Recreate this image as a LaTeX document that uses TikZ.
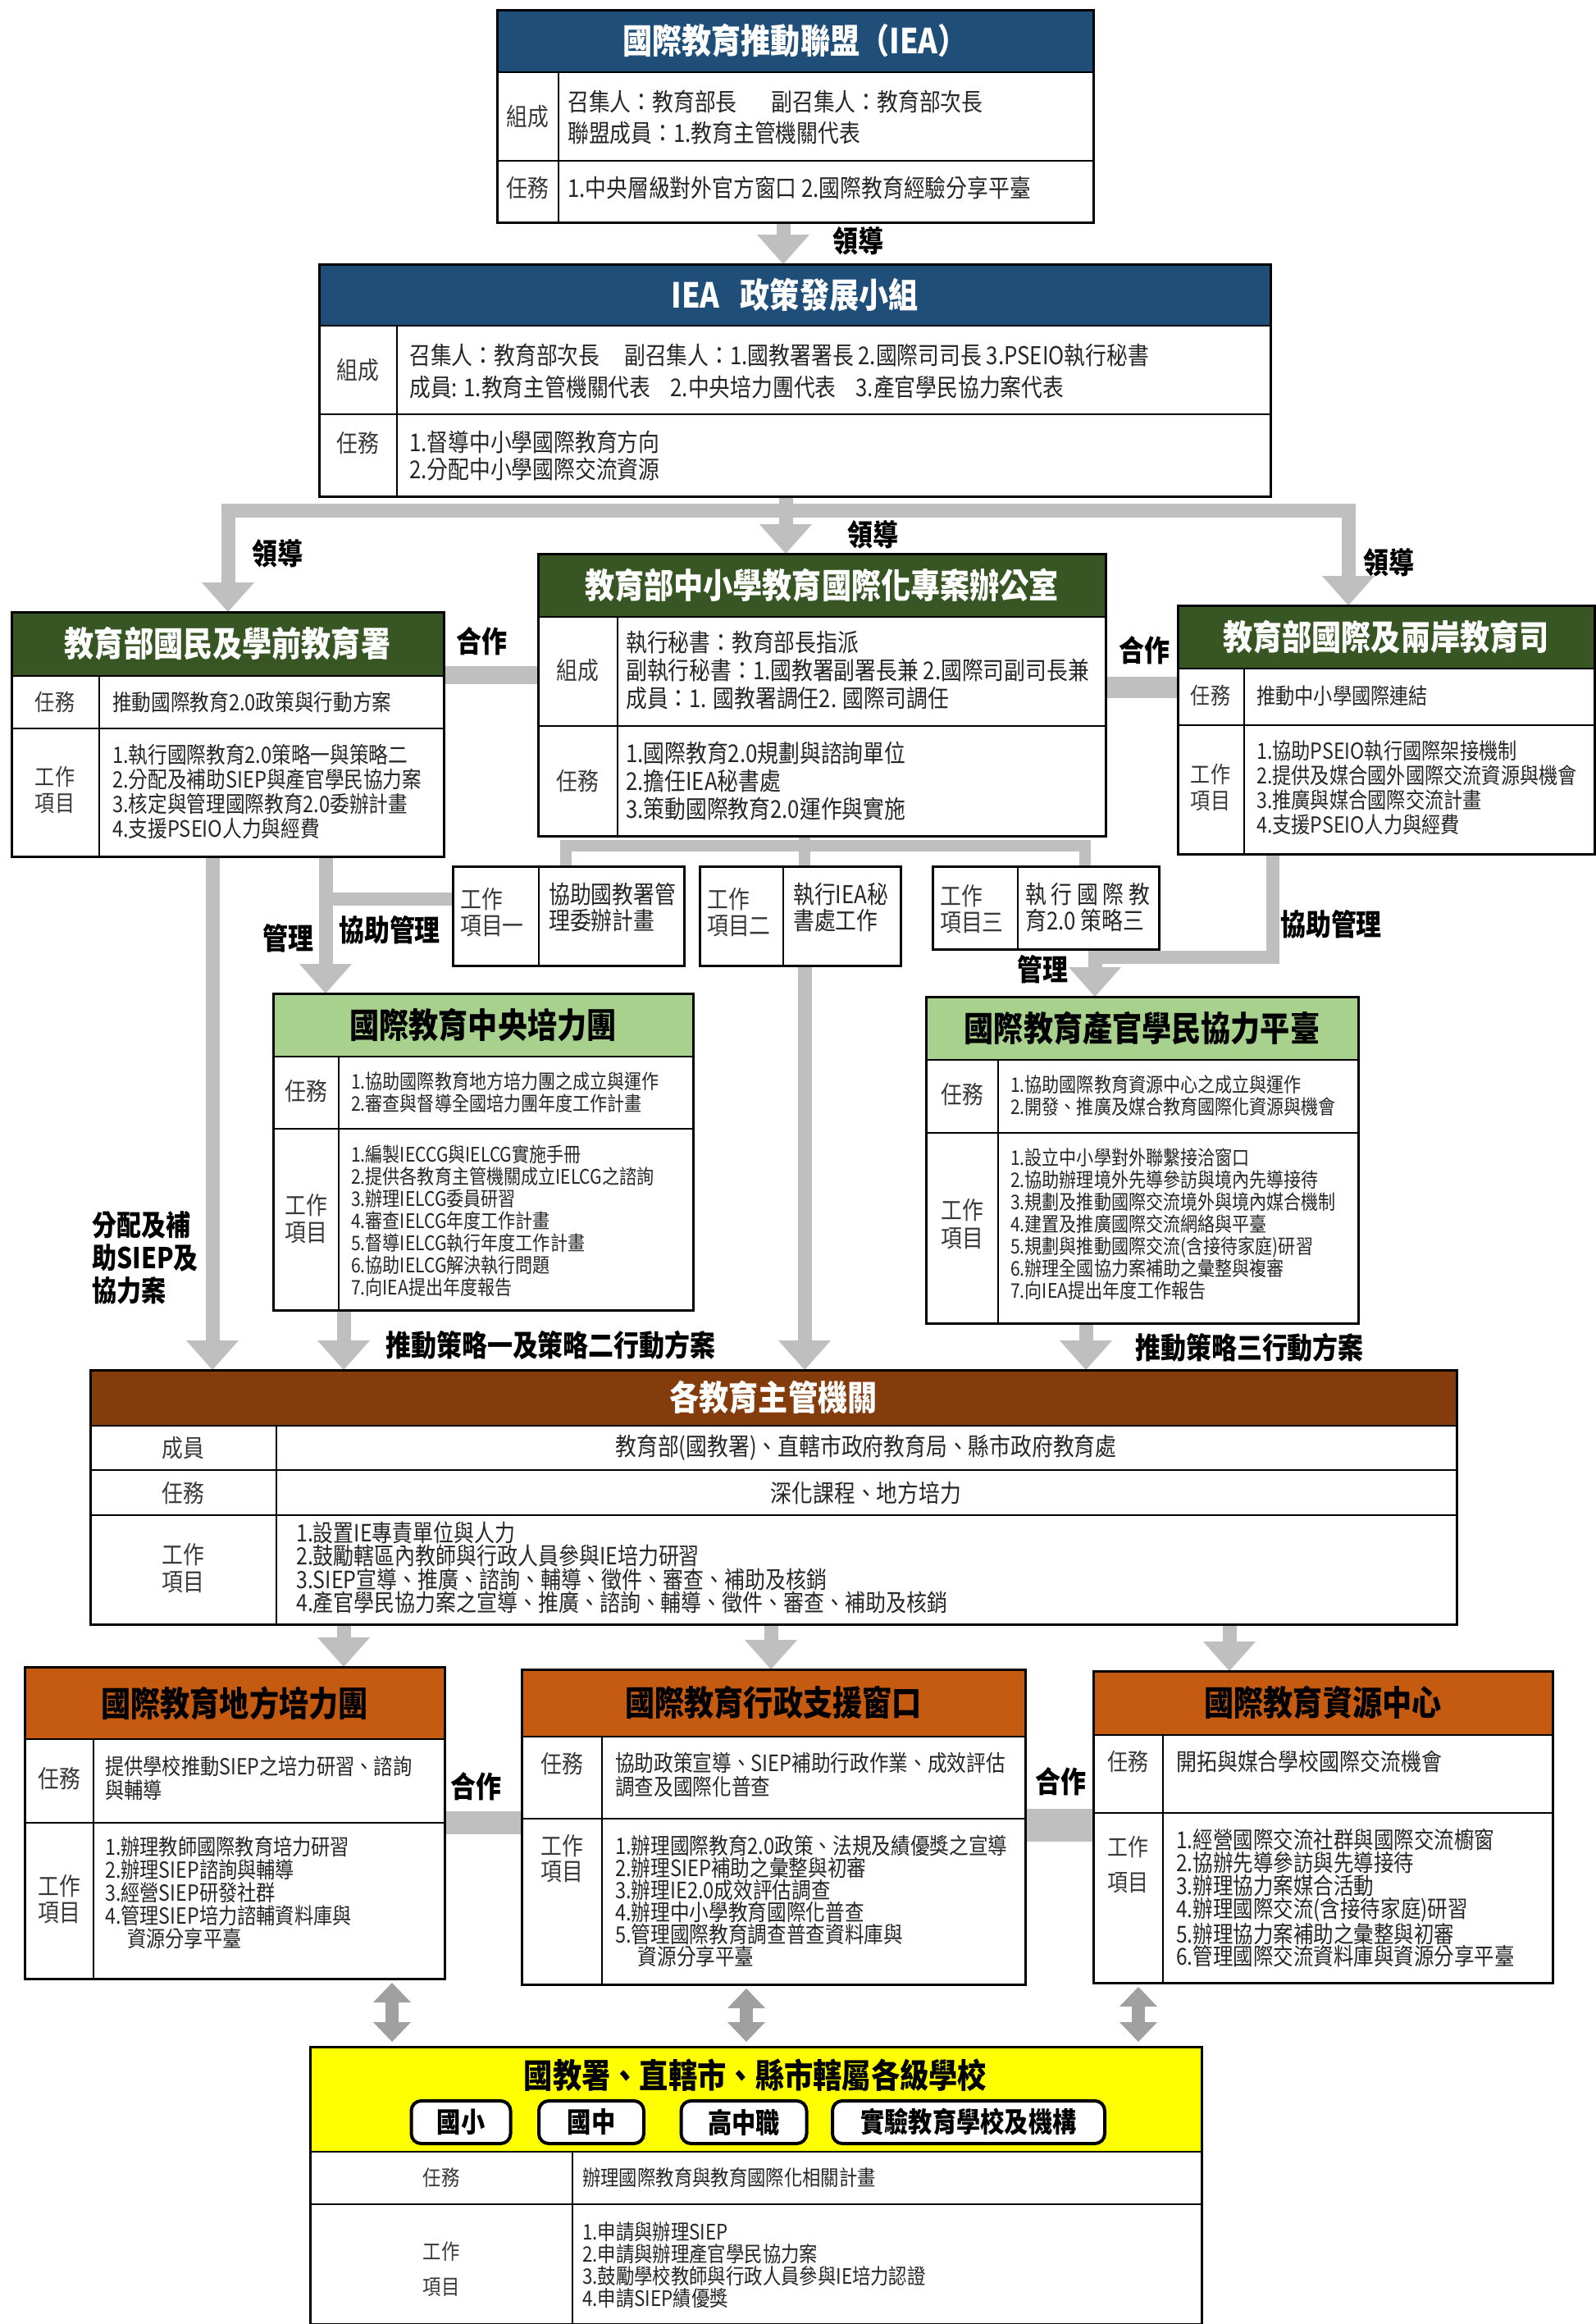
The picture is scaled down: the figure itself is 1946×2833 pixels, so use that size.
\documentclass[tikz,border=0pt]{standalone}
\usepackage{fontspec}
\setmainfont[FakeStretch=0.86]{Noto Sans CJK TC}
\usetikzlibrary{arrows.meta,backgrounds}
\definecolor{cblue}{HTML}{1F4E79}
\definecolor{dgreen}{HTML}{375623}
\definecolor{lgreen}{HTML}{A9D18E}
\definecolor{cbrown}{HTML}{843C0C}
\definecolor{corange}{HTML}{C55A11}
\definecolor{cyellow}{HTML}{FFFF00}
\definecolor{cgray}{HTML}{BFBFBF}
\definecolor{dgray}{HTML}{A0A0A0}
\definecolor{txtc}{HTML}{262626}
\definecolor{labc}{HTML}{3A3A3A}
\newcommand\fsz[2]{\fontsize{#1}{#2}\selectfont}
\begin{document}
\begin{tikzpicture}[x=1pt,y=-1pt,
  hd/.style={anchor=north west, inner sep=0pt, outer sep=0pt, font=\fsz{42}{46}\bfseries, align=center},
  frm/.style={anchor=north west, draw=black, line width=3pt, inner sep=0pt, outer sep=0pt},
  dv/.style={draw=black, line width=2.5pt},
  lab/.style={text=labc, align=center, inner sep=0pt},
  labl/.style={text=labc, align=left, anchor=west, inner sep=0pt},
  txt/.style={text=txtc, align=left, anchor=west, inner sep=0pt},
  conn/.style={draw=cgray, line width=17pt},
  arr/.style={draw=cgray, line width=17pt, -{Triangle[width=64pt,length=36pt,line width=0pt]}},
  dbl/.style={draw=dgray, line width=16pt, {Triangle[width=46pt,length=24pt,line width=0pt]}-{Triangle[width=46pt,length=24pt,line width=0pt]}, shorten <=5pt, shorten >=6pt},
  note/.style={font=\fsz{36}{40}\bfseries, text=black, inner sep=0pt, align=left},
  pill/.style={draw=black, line width=4pt, rounded corners=12pt, fill=white, inner sep=0pt, minimum height=52pt, font=\fsz{34}{38}\bfseries},
]
\useasboundingbox (0,0) rectangle (1946,2833);

% ---------- A: IEA ----------
\node[hd, fill=cblue, text=white, minimum width=727, minimum height=76] (Ah) at (606,12) {國際教育推動聯盟（IEA）};
\node[frm, minimum width=727, minimum height=259] (A) at (606,12) {};
\draw[dv] (606,88)--(1333,88) (606,196)--(1333,196) (681,88)--(681,271);
\node[lab, font=\fsz{30}{34}] (Al1) at (643,142) {組成};
\node[lab, font=\fsz{30}{34}] (Al2) at (643,229) {任務};
\node[txt, font=\fsz{30}{38}] (At1) at (692,143) {召集人：教育部長\hspace{1.4em}副召集人：教育部次長\\聯盟成員：1.教育主管機關代表};
\node[txt, font=\fsz{30}{38}] (At2) at (692,229) {1.中央層級對外官方窗口 2.國際教育經驗分享平臺};

% ---------- B: policy group ----------
\node[hd, fill=cblue, text=white, minimum width=1160, minimum height=75] (Bh) at (389,322) {IEA\hspace{0.6em}政策發展小組};
\node[frm, minimum width=1160, minimum height=283] (B) at (389,322) {};
\draw[dv] (389,397)--(1549,397) (389,505)--(1549,505) (484,397)--(484,605);
\node[lab, font=\fsz{30}{34}] (Bl1) at (436,451) {組成};
\node[lab, font=\fsz{30}{34}] (Bl2) at (436,540) {任務};
\node[txt, font=\fsz{30}{39}] (Bt1) at (499,453) {召集人：教育部次長\hspace{1em}副召集人：1.國教署署長 2.國際司司長 3.PSEIO執行秘書\\成員: 1.教育主管機關代表\hspace{0.8em}2.中央培力團代表\hspace{0.8em}3.產官學民協力案代表};
\node[txt, font=\fsz{30}{33}] (Bt2) at (499,555) {1.督導中小學國際教育方向\\2.分配中小學國際交流資源};

% ---------- C: K-12 administration ----------
\node[hd, fill=dgreen, text=white, minimum width=527, minimum height=78] (Ch) at (14,746) {教育部國民及學前教育署};
\node[frm, minimum width=527, minimum height=298] (C) at (14,746) {};
\draw[dv] (14,824)--(541,824) (14,888)--(541,888) (121,824)--(121,1044);
\node[lab, font=\fsz{28}{32}] (Cl1) at (67,856) {任務};
\node[lab, font=\fsz{28}{32}] (Cl2) at (67,963) {工作\\項目};
\node[txt, font=\fsz{27.5}{30}] (Ct1) at (137,856) {推動國際教育2.0政策與行動方案};
\node[txt, font=\fsz{27.5}{30}] (Ct2) at (137,965) {1.執行國際教育2.0策略一與策略二\\2.分配及補助SIEP與產官學民協力案\\3.核定與管理國際教育2.0委辦計畫\\4.支援PSEIO人力與經費};

% ---------- D: project office ----------
\node[hd, fill=dgreen, text=white, minimum width=692, minimum height=77] (Dh) at (656,675) {教育部中小學教育國際化專案辦公室};
\node[frm, minimum width=692, minimum height=344] (D) at (656,675) {};
\draw[dv] (656,752)--(1348,752) (656,885)--(1348,885) (753,752)--(753,1019);
\node[lab, font=\fsz{30}{34}] (Dl1) at (704,817) {組成};
\node[lab, font=\fsz{30}{34}] (Dl2) at (704,952) {任務};
\node[txt, font=\fsz{30}{34}] (Dt1) at (763,817) {執行秘書：教育部長指派\\副執行秘書：1.國教署副署長兼 2.國際司副司長兼\\成員：1. 國教署調任2. 國際司調任};
\node[txt, font=\fsz{30}{34}] (Dt2) at (763,952) {1.國際教育2.0規劃與諮詢單位\\2.擔任IEA秘書處\\3.策動國際教育2.0運作與實施};

% ---------- E: international department ----------
\node[hd, fill=dgreen, text=white, minimum width=508, minimum height=77] (Eh) at (1436,738) {教育部國際及兩岸教育司};
\node[frm, minimum width=508, minimum height=303] (E) at (1436,738) {};
\draw[dv] (1436,815)--(1944,815) (1436,884)--(1944,884) (1517,815)--(1517,1041);
\node[lab, font=\fsz{28}{32}] (El1) at (1476,848) {任務};
\node[lab, font=\fsz{28}{32}] (El2) at (1476,960) {工作\\項目};
\node[txt, font=\fsz{27}{30}] (Et1) at (1532,848) {推動中小學國際連結};
\node[txt, font=\fsz{27}{30}] (Et2) at (1532,960) {1.協助PSEIO執行國際架接機制\\2.提供及媒合國外國際交流資源與機會\\3.推廣與媒合國際交流計畫\\4.支援PSEIO人力與經費};

% ---------- small work item boxes ----------
\node[frm, minimum width=282, minimum height=121] (S1) at (552,1056) {};
\draw[dv] (657,1056)--(657,1177);
\node[labl, font=\fsz{30}{32}] (S1l) at (561,1112) {工作\\項目一};
\node[txt, font=\fsz{30}{32}] (S1t) at (669,1106) {協助國教署管\\理委辦計畫};
\node[frm, minimum width=245, minimum height=121] (S2) at (853,1056) {};
\draw[dv] (955,1056)--(955,1177);
\node[labl, font=\fsz{30}{32}] (S2l) at (862,1112) {工作\\項目二};
\node[txt, font=\fsz{30}{32}] (S2t) at (967,1106) {執行IEA秘\\書處工作};
\node[frm, minimum width=276, minimum height=101] (S3) at (1137,1056) {};
\draw[dv] (1241,1056)--(1241,1157);
\node[labl, font=\fsz{30}{32}] (S3l) at (1146,1108) {工作\\項目三};
\node[txt, font=\fsz{30}{32}] (S3t) at (1250,1106) {執 行 國 際 教\\育2.0 策略三};

% ---------- F: central team ----------
\node[hd, fill=lgreen, text=black, minimum width=512, minimum height=77] (Fh) at (333,1211) {國際教育中央培力團};
\node[frm, minimum width=512, minimum height=386] (F) at (333,1211) {};
\draw[dv] (333,1288)--(845,1288) (333,1376)--(845,1376) (413,1288)--(413,1597);
\node[lab, font=\fsz{30}{33}] (Fl1) at (373,1330) {任務};
\node[lab, font=\fsz{30}{33}] (Fl2) at (373,1486) {工作\\項目};
\node[txt, font=\fsz{24.5}{27}] (Ft1) at (428,1332) {1.協助國際教育地方培力團之成立與運作\\2.審查與督導全國培力團年度工作計畫};
\node[txt, font=\fsz{24.5}{27}] (Ft2) at (428,1488) {1.編製IECCG與IELCG實施手冊\\2.提供各教育主管機關成立IELCG之諮詢\\3.辦理IELCG委員研習\\4.審查IELCG年度工作計畫\\5.督導IELCG執行年度工作計畫\\6.協助IELCG解決執行問題\\7.向IEA提出年度報告};

% ---------- G: partnership platform ----------
\node[hd, fill=lgreen, text=black, minimum width=527, minimum height=77] (Gh) at (1129,1215) {國際教育產官學民協力平臺};
\node[frm, minimum width=527, minimum height=398] (G) at (1129,1215) {};
\draw[dv] (1129,1292)--(1656,1292) (1129,1381)--(1656,1381) (1217,1292)--(1217,1613);
\node[lab, font=\fsz{30}{34}] (Gl1) at (1173,1334) {任務};
\node[lab, font=\fsz{30}{34}] (Gl2) at (1173,1492) {工作\\項目};
\node[txt, font=\fsz{24.5}{27}] (Gt1) at (1232,1336) {1.協助國際教育資源中心之成立與運作\\2.開發、推廣及媒合教育國際化資源與機會};
\node[txt, font=\fsz{24.5}{27}] (Gt2) at (1232,1492) {1.設立中小學對外聯繫接洽窗口\\2.協助辦理境外先導參訪與境內先導接待\\3.規劃及推動國際交流境外與境內媒合機制\\4.建置及推廣國際交流網絡與平臺\\5.規劃與推動國際交流(含接待家庭)研習\\6.辦理全國協力案補助之彙整與複審\\7.向IEA提出年度工作報告};

% ---------- H: education authorities ----------
\node[hd, fill=cbrown, text=white, minimum width=1666, minimum height=68] (Hh) at (110,1670) {各教育主管機關};
\node[frm, minimum width=1666, minimum height=310] (H) at (110,1670) {};
\draw[dv] (110,1738)--(1776,1738) (110,1792)--(1776,1792) (110,1847)--(1776,1847) (337,1738)--(337,1980);
\node[lab, font=\fsz{30}{33}] (Hl1) at (223,1765) {成員};
\node[lab, font=\fsz{30}{33}] (Hl2) at (223,1820) {任務};
\node[lab, font=\fsz{30}{33}] (Hl3) at (223,1912) {工作\\項目};
\node[lab, text=txtc, font=\fsz{30}{33}] (Ht1) at (1056,1765) {教育部(國教署)、直轄市政府教育局、縣市政府教育處};
\node[lab, text=txtc, font=\fsz{30}{33}] (Ht2) at (1056,1820) {深化課程、地方培力};
\node[txt, font=\fsz{29}{28.5}] (Ht3) at (361,1911) {1.設置IE專責單位與人力\\2.鼓勵轄區內教師與行政人員參與IE培力研習\\3.SIEP宣導、推廣、諮詢、輔導、徵件、審查、補助及核銷\\4.產官學民協力案之宣導、推廣、諮詢、輔導、徵件、審查、補助及核銷};

% ---------- I: local team ----------
\node[hd, fill=corange, text=black, minimum width=512, minimum height=88] (Ih) at (30,2032) {國際教育地方培力團};
\node[frm, minimum width=512, minimum height=380] (I) at (30,2032) {};
\draw[dv] (30,2120)--(542,2120) (30,2222)--(542,2222) (114,2120)--(114,2412);
\node[lab, font=\fsz{30}{32}] (Il1) at (72,2168) {任務};
\node[lab, font=\fsz{30}{32}] (Il2) at (72,2315) {工作\\項目};
\node[txt, font=\fsz{27}{29}] (It1) at (128,2168) {提供學校推動SIEP之培力研習、諮詢\\與輔導};
\node[txt, font=\fsz{27}{28}] (It2) at (128,2307) {1.辦理教師國際教育培力研習\\2.辦理SIEP諮詢與輔導\\3.經營SIEP研發社群\\4.管理SIEP培力諮輔資料庫與\\\hspace*{1em}資源分享平臺};

% ---------- J: admin support ----------
\node[hd, fill=corange, text=black, minimum width=614, minimum height=82] (Jh) at (636,2035) {國際教育行政支援窗口};
\node[frm, minimum width=614, minimum height=384] (J) at (636,2035) {};
\draw[dv] (636,2117)--(1250,2117) (636,2217)--(1250,2217) (734,2117)--(734,2419);
\node[lab, font=\fsz{30}{31}] (Jl1) at (685,2150) {任務};
\node[lab, font=\fsz{30}{31}] (Jl2) at (685,2266) {工作\\項目};
\node[txt, font=\fsz{27.5}{29}] (Jt1) at (750,2164) {協助政策宣導、SIEP補助行政作業、成效評估\\調查及國際化普查};
\node[txt, font=\fsz{27.5}{27}] (Jt2) at (750,2317) {1.辦理國際教育2.0政策、法規及績優獎之宣導\\2.辦理SIEP補助之彙整與初審\\3.辦理IE2.0成效評估調查\\4.辦理中小學教育國際化普查\\5.管理國際教育調查普查資料庫與\\\hspace*{1em}資源分享平臺};

% ---------- K: resource center ----------
\node[hd, fill=corange, text=black, minimum width=560, minimum height=78] (Kh) at (1333,2037) {國際教育資源中心};
\node[frm, minimum width=560, minimum height=380] (K) at (1333,2037) {};
\draw[dv] (1333,2115)--(1893,2115) (1333,2210)--(1893,2210) (1418,2115)--(1418,2417);
\node[lab, font=\fsz{29}{43}] (Kl1) at (1375,2147) {任務};
\node[lab, font=\fsz{29}{43}] (Kl2) at (1375,2273) {工作\\項目};
\node[txt, font=\fsz{29}{30}] (Kt1) at (1434,2147) {開拓與媒合學校國際交流機會};
\node[txt, font=\fsz{28.5}{27.8}] (Kt2) at (1434,2314) {1.經營國際交流社群與國際交流櫥窗\\2.協辦先導參訪與先導接待\\3.辦理協力案媒合活動\\4.辦理國際交流(含接待家庭)研習\\5.辦理協力案補助之彙整與初審\\6.管理國際交流資料庫與資源分享平臺};

% ---------- L: schools ----------
\node[hd, fill=cyellow, minimum width=1087, minimum height=128] (Lh) at (378,2495) {};
\node[frm, minimum width=1087, minimum height=338] (L) at (378,2495) {};
\draw[dv] (378,2623)--(1465,2623) (378,2687)--(1465,2687) (698,2623)--(698,2833);
\node[font=\fsz{41}{45}\bfseries, inner sep=0pt] (Lt) at (921,2530) {國教署、直轄市、縣市轄屬各級學校};
\node[pill, minimum width=121] (P1) at (562,2587) {國小};
\node[pill, minimum width=128] (P2) at (721,2587) {國中};
\node[pill, minimum width=153] (P3) at (907,2587) {高中職};
\node[pill, minimum width=332] (P4) at (1181,2587) {實驗教育學校及機構};
\node[lab, font=\fsz{26}{43}] (Ll1) at (538,2655) {任務};
\node[lab, font=\fsz{26}{43}] (Ll2) at (538,2766) {工作\\項目};
\node[txt, font=\fsz{26}{28}] (Lt1) at (710,2655) {辦理國際教育與教育國際化相關計畫};
\node[txt, font=\fsz{26}{27}] (Lt2) at (710,2761) {1.申請與辦理SIEP\\2.申請與辦理產官學民協力案\\3.鼓勵學校教師與行政人員參與IE培力認證\\4.申請SIEP績優獎};

% ---------- connector labels ----------
\node[note] (n1) at (1046,294) {領導};
\node[note] (n2) at (338,675) {領導};
\node[note] (n3) at (1064,652) {領導};
\node[note] (n4) at (1693,686) {領導};
\node[note] (n5) at (587,782) {合作};
\node[note] (n6) at (1395,793) {合作};
\node[note] (n7) at (351,1144) {管理};
\node[note] (n8) at (475,1134) {協助管理};
\node[note] (n9) at (1623,1127) {協助管理};
\node[note] (n10) at (1271,1182) {管理};
\node[note, anchor=west, font=\fsz{35}{40}\bfseries] (n11) at (112,1533) {分配及補\\助SIEP及\\協力案};
\node[note, anchor=west] (n12) at (470,1640) {推動策略一及策略二行動方案};
\node[note, anchor=west] (n13) at (1384,1643) {推動策略三行動方案};
\node[note] (n14) at (580,2178) {合作};
\node[note] (n15) at (1293,2172) {合作};

% ---------- connectors ----------
\begin{scope}[on background layer]
\fill[white] (0,0) rectangle (1946,2833);
\draw[arr] (955,0 |- A.south) -- (955,0 |- B.north);
\draw[arr] (958,0 |- B.south) -- (958,0 |- D.north);
\draw[arr] (958,622) -- (278,622) -- (278,0 |- C.north);
\draw[arr] (958,622) -- (1644,622) -- (1644,0 |- E.north);
\draw[conn, line width=22pt] (C.east |- 0,823) -- (D.west |- 0,823);
\draw[conn, line width=26pt] (D.east |- 0,838) -- (E.west |- 0,838);
\draw[conn, line width=14pt] (981,0 |- D.south) -- (981,0 |- S2.north);
\draw[conn, line width=14pt] (690,0 |- S1.north) -- (690,1031) -- (1323,1031) -- (1323,0 |- S3.north);
\draw[arr] (981,0 |- S2.south) -- (981,0 |- H.north);
\draw[arr] (1335,0 |- S3.south) -- (1335,0 |- G.north);
\draw[conn, line width=16pt] (1552,0 |- E.south) -- (1552,1167) -- (1335,1167);
\draw[arr] (259,0 |- C.south) -- (259,0 |- H.north);
\draw[arr] (397,0 |- C.south) -- (397,0 |- F.north);
\draw[conn, line width=16pt] (S1.west |- 0,1096) -- (397,1096);
\draw[arr] (419,0 |- F.south) -- (419,0 |- H.north);
\draw[arr] (1324,0 |- G.south) -- (1324,0 |- H.north);
\draw[arr] (419,0 |- H.south) -- (419,0 |- I.north);
\draw[arr] (940,0 |- H.south) -- (940,0 |- J.north);
\draw[arr] (1499,0 |- H.south) -- (1499,0 |- K.north);
\draw[conn, line width=28pt] (I.east |- 0,2222) -- (J.west |- 0,2222);
\draw[conn, line width=40pt] (J.east |- 0,2225) -- (K.west |- 0,2225);
\draw[dbl] (478,0 |- I.south) -- (478,0 |- L.north);
\draw[dbl] (910,0 |- J.south) -- (910,0 |- L.north);
\draw[dbl] (1388,0 |- K.south) -- (1388,0 |- L.north);
\end{scope}
\end{tikzpicture}
\end{document}
